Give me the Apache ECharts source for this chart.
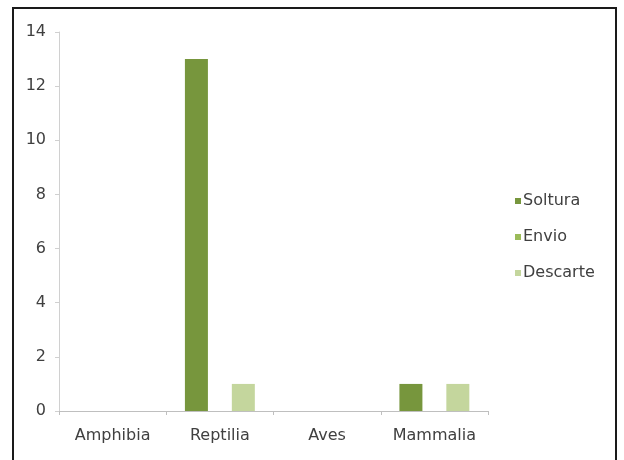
<!DOCTYPE html>
<html>
<head>
<meta charset="utf-8">
<script src="https://cdn.jsdelivr.net/npm/echarts@6/dist/echarts.min.js"></script>
<style>
  html, body { margin: 0; padding: 0; background: #fff; }
  #frame { position: absolute; left: 12px; top: 7px; width: 605px; height: 460px; border: 2px solid #1a1a1a; box-sizing: border-box; }
  #chart { position: absolute; left: 0; top: 0; width: 624px; height: 460px; }
</style>
</head>
<body>
<div id="frame"></div>
<div id="chart"></div>
<script>
// Animal classes and counts per destination
const categories = ['Amphibia', 'Reptilia', 'Aves', 'Mammalia'];
const soltura = [0, 13, 0, 1];
const envio = [0, 0, 0, 0];
const descarte = [0, 1, 0, 1];
const yTicks = [0, 2, 4, 6, 8, 10, 12, 14];

const font = 'DejaVu Sans';
const textColor = '#404040';

const chart = echarts.init(document.getElementById('chart'), null, { renderer: 'canvas' });

function barSeries(name, data, color) {
  return {
    name: name,
    type: 'bar',
    data: data,
    barWidth: 23,
    barGap: '2%',
    itemStyle: { color: color },
    emphasis: { disabled: true },
    animation: false
  };
}

chart.setOption({
  backgroundColor: 'transparent',
  animation: false,
  grid: { left: 59, right: 136, top: 32, bottom: 49 },
  legend: {
    orient: 'vertical',
    left: 510,
    top: 188,
    itemWidth: 6,
    itemHeight: 6,
    itemGap: 20,
    icon: 'rect',
    textStyle: { fontFamily: font, fontSize: 16, color: textColor, padding: [0, 0, 0, -3] },
    data: ['Soltura', 'Envio', 'Descarte']
  },
  xAxis: {
    type: 'category',
    data: categories,
    axisLine: { lineStyle: { color: '#bfbfbf', width: 1 } },
    axisTick: { show: true, length: 4, lineStyle: { color: '#bfbfbf' } },
    axisLabel: { fontFamily: font, fontSize: 16, color: textColor, margin: 17, interval: 0 }
  },
  yAxis: {
    type: 'value',
    min: yTicks[0],
    max: yTicks[yTicks.length - 1],
    interval: 2,
    axisLine: { show: true, lineStyle: { color: '#d0d0d0', width: 1 } },
    axisTick: { show: true, length: 4, lineStyle: { color: '#d0d0d0' } },
    splitLine: { show: false },
    axisLabel: { fontFamily: font, fontSize: 16, color: textColor, margin: 13 }
  },
  series: [
    barSeries('Soltura', soltura, '#77963d'),
    barSeries('Envio', envio, '#9bbb59'),
    barSeries('Descarte', descarte, '#c4d69d')
  ]
});
</script>
</body>
</html>
